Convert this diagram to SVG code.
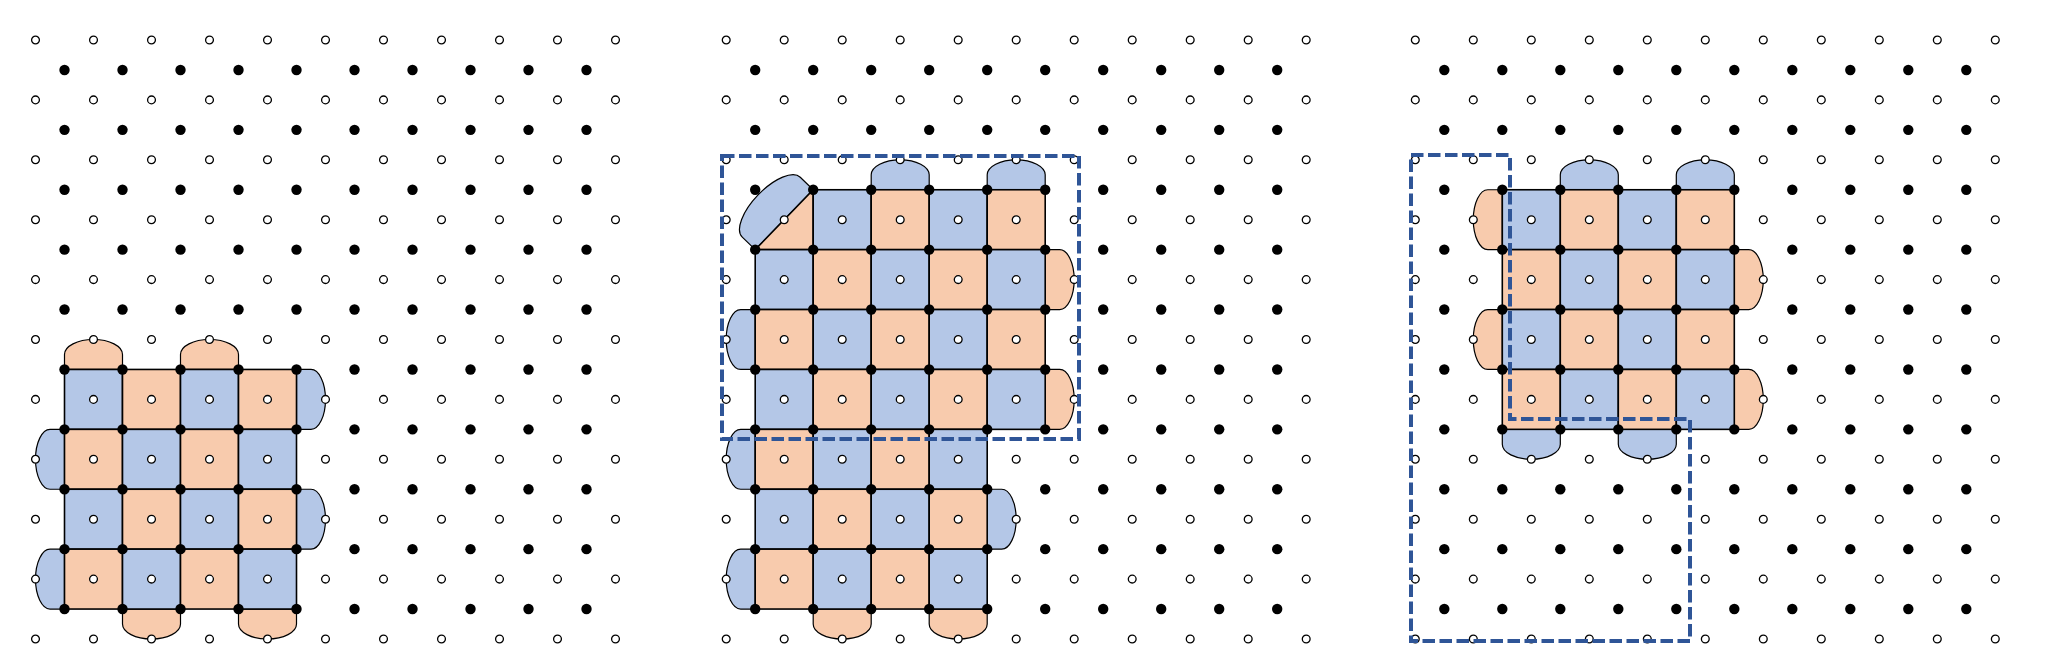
<svg xmlns="http://www.w3.org/2000/svg" width="2045" height="670" viewBox="0 0 2045 670">
<style>
.b{fill:#B4C7E7}
.o{fill:#F8CBAD}
.sq rect,.sq path{stroke:#000;stroke-width:1.6}
.tab path{stroke:#000;stroke-width:1.2}
.w{fill:#fff;stroke:#000;stroke-width:1.3}
.k{fill:#000}
.dash{fill:none;stroke:#2F5597;stroke-width:4;stroke-dasharray:12.5 4.5}
</style>
<defs>
<g id="wr" class="w">
<circle cx="0" cy="0" r="3.9"/><circle cx="58" cy="0" r="3.9"/><circle cx="116" cy="0" r="3.9"/><circle cx="174" cy="0" r="3.9"/><circle cx="232" cy="0" r="3.9"/><circle cx="290" cy="0" r="3.9"/><circle cx="348" cy="0" r="3.9"/><circle cx="406" cy="0" r="3.9"/><circle cx="464" cy="0" r="3.9"/><circle cx="522" cy="0" r="3.9"/><circle cx="580" cy="0" r="3.9"/>
</g>
<g id="br" class="k">
<circle cx="29" cy="0" r="5.2"/><circle cx="87" cy="0" r="5.2"/><circle cx="145" cy="0" r="5.2"/><circle cx="203" cy="0" r="5.2"/><circle cx="261" cy="0" r="5.2"/><circle cx="319" cy="0" r="5.2"/><circle cx="377" cy="0" r="5.2"/><circle cx="435" cy="0" r="5.2"/><circle cx="493" cy="0" r="5.2"/><circle cx="551" cy="0" r="5.2"/>
</g>
<g id="lat">
<use href="#wr" y="0"/><use href="#wr" y="59.9"/><use href="#wr" y="119.8"/><use href="#wr" y="179.7"/><use href="#wr" y="239.6"/><use href="#wr" y="299.5"/><use href="#wr" y="359.4"/><use href="#wr" y="419.3"/><use href="#wr" y="479.2"/><use href="#wr" y="539.1"/><use href="#wr" y="599"/>
<use href="#br" y="29.95"/><use href="#br" y="89.85"/><use href="#br" y="149.75"/><use href="#br" y="209.65"/><use href="#br" y="269.55"/><use href="#br" y="329.45"/><use href="#br" y="389.35"/><use href="#br" y="449.25"/><use href="#br" y="509.15"/><use href="#br" y="569.05"/>
</g>
</defs>
<rect width="2045" height="670" fill="#fff"/>

<g id="panel1" transform="translate(35.5,40)">
<g id="p1-tabs" class="tab">
<path class="o" d="M29,329.45V314.5A29 15 0 0 1 87,314.5V329.45Z"/>
<path class="o" d="M145,329.45V314.5A29 15 0 0 1 203,314.5V329.45Z"/>
<path class="o" d="M87,569.05V584A29 15 0 0 0 145,584V569.05Z"/>
<path class="o" d="M203,569.05V584A29 15 0 0 0 261,584V569.05Z"/>
<path class="b" d="M29,389.35H14.5A14.5 29.95 0 0 0 14.5,449.25H29Z"/>
<path class="b" d="M29,509.15H14.5A14.5 29.95 0 0 0 14.5,569.05H29Z"/>
<path class="b" d="M261,329.45H275.5A14.5 29.95 0 0 1 275.5,389.35H261Z"/>
<path class="b" d="M261,449.25H275.5A14.5 29.95 0 0 1 275.5,509.15H261Z"/>
</g>
<g id="p1-squares" class="sq">
<rect class="b" x="29" y="329.45" width="58" height="59.9"/><rect class="o" x="87" y="329.45" width="58" height="59.9"/><rect class="b" x="145" y="329.45" width="58" height="59.9"/><rect class="o" x="203" y="329.45" width="58" height="59.9"/>
<rect class="o" x="29" y="389.35" width="58" height="59.9"/><rect class="b" x="87" y="389.35" width="58" height="59.9"/><rect class="o" x="145" y="389.35" width="58" height="59.9"/><rect class="b" x="203" y="389.35" width="58" height="59.9"/>
<rect class="b" x="29" y="449.25" width="58" height="59.9"/><rect class="o" x="87" y="449.25" width="58" height="59.9"/><rect class="b" x="145" y="449.25" width="58" height="59.9"/><rect class="o" x="203" y="449.25" width="58" height="59.9"/>
<rect class="o" x="29" y="509.15" width="58" height="59.9"/><rect class="b" x="87" y="509.15" width="58" height="59.9"/><rect class="o" x="145" y="509.15" width="58" height="59.9"/><rect class="b" x="203" y="509.15" width="58" height="59.9"/>
</g>
<use id="p1-dots" href="#lat"/>
</g>

<g id="panel2" transform="translate(726.2,40)">
<g id="p2-tabs" class="tab">
<path class="b" transform="translate(58,179.7) rotate(-45.93)" d="M-41.69,0V-18A41.69 18 0 0 1 41.69,-18V0Z"/>
<path class="b" d="M145,149.75V134.8A29 15 0 0 1 203,134.8V149.75Z"/>
<path class="b" d="M261,149.75V134.8A29 15 0 0 1 319,134.8V149.75Z"/>
<path class="o" d="M319,209.65H333.5A14.5 29.95 0 0 1 333.5,269.55H319Z"/>
<path class="o" d="M319,329.45H333.5A14.5 29.95 0 0 1 333.5,389.35H319Z"/>
<path class="b" d="M29,269.55H14.5A14.5 29.95 0 0 0 14.5,329.45H29Z"/>
<path class="b" d="M29,389.35H14.5A14.5 29.95 0 0 0 14.5,449.25H29Z"/>
<path class="b" d="M29,509.15H14.5A14.5 29.95 0 0 0 14.5,569.05H29Z"/>
<path class="b" d="M261,449.25H275.5A14.5 29.95 0 0 1 275.5,509.15H261Z"/>
<path class="o" d="M87,569.05V584A29 15 0 0 0 145,584V569.05Z"/>
<path class="o" d="M203,569.05V584A29 15 0 0 0 261,584V569.05Z"/>
</g>
<g id="p2-squares" class="sq">
<path class="o" d="M29,209.65L87,149.75V209.65Z"/>
<rect class="b" x="87" y="149.75" width="58" height="59.9"/><rect class="o" x="145" y="149.75" width="58" height="59.9"/><rect class="b" x="203" y="149.75" width="58" height="59.9"/><rect class="o" x="261" y="149.75" width="58" height="59.9"/>
<rect class="b" x="29" y="209.65" width="58" height="59.9"/><rect class="o" x="87" y="209.65" width="58" height="59.9"/><rect class="b" x="145" y="209.65" width="58" height="59.9"/><rect class="o" x="203" y="209.65" width="58" height="59.9"/><rect class="b" x="261" y="209.65" width="58" height="59.9"/>
<rect class="o" x="29" y="269.55" width="58" height="59.9"/><rect class="b" x="87" y="269.55" width="58" height="59.9"/><rect class="o" x="145" y="269.55" width="58" height="59.9"/><rect class="b" x="203" y="269.55" width="58" height="59.9"/><rect class="o" x="261" y="269.55" width="58" height="59.9"/>
<rect class="b" x="29" y="329.45" width="58" height="59.9"/><rect class="o" x="87" y="329.45" width="58" height="59.9"/><rect class="b" x="145" y="329.45" width="58" height="59.9"/><rect class="o" x="203" y="329.45" width="58" height="59.9"/><rect class="b" x="261" y="329.45" width="58" height="59.9"/>
<rect class="o" x="29" y="389.35" width="58" height="59.9"/><rect class="b" x="87" y="389.35" width="58" height="59.9"/><rect class="o" x="145" y="389.35" width="58" height="59.9"/><rect class="b" x="203" y="389.35" width="58" height="59.9"/>
<rect class="b" x="29" y="449.25" width="58" height="59.9"/><rect class="o" x="87" y="449.25" width="58" height="59.9"/><rect class="b" x="145" y="449.25" width="58" height="59.9"/><rect class="o" x="203" y="449.25" width="58" height="59.9"/>
<rect class="o" x="29" y="509.15" width="58" height="59.9"/><rect class="b" x="87" y="509.15" width="58" height="59.9"/><rect class="o" x="145" y="509.15" width="58" height="59.9"/><rect class="b" x="203" y="509.15" width="58" height="59.9"/>
</g>
<use id="p2-dots" href="#lat"/>
</g>

<g id="panel3" transform="translate(1415.3,40)">
<g id="p3-tabs" class="tab">
<path class="b" d="M145,149.75V134.8A29 15 0 0 1 203,134.8V149.75Z"/>
<path class="b" d="M261,149.75V134.8A29 15 0 0 1 319,134.8V149.75Z"/>
<path class="o" d="M87,149.75H72.5A14.5 29.95 0 0 0 72.5,209.65H87Z"/>
<path class="o" d="M87,269.55H72.5A14.5 29.95 0 0 0 72.5,329.45H87Z"/>
<path class="o" d="M319,209.65H333.5A14.5 29.95 0 0 1 333.5,269.55H319Z"/>
<path class="o" d="M319,329.45H333.5A14.5 29.95 0 0 1 333.5,389.35H319Z"/>
<path class="b" d="M87,389.35V404.3A29 15 0 0 0 145,404.3V389.35Z"/>
<path class="b" d="M203,389.35V404.3A29 15 0 0 0 261,404.3V389.35Z"/>
</g>
<g id="p3-squares" class="sq">
<rect class="b" x="87" y="149.75" width="58" height="59.9"/><rect class="o" x="145" y="149.75" width="58" height="59.9"/><rect class="b" x="203" y="149.75" width="58" height="59.9"/><rect class="o" x="261" y="149.75" width="58" height="59.9"/>
<rect class="o" x="87" y="209.65" width="58" height="59.9"/><rect class="b" x="145" y="209.65" width="58" height="59.9"/><rect class="o" x="203" y="209.65" width="58" height="59.9"/><rect class="b" x="261" y="209.65" width="58" height="59.9"/>
<rect class="b" x="87" y="269.55" width="58" height="59.9"/><rect class="o" x="145" y="269.55" width="58" height="59.9"/><rect class="b" x="203" y="269.55" width="58" height="59.9"/><rect class="o" x="261" y="269.55" width="58" height="59.9"/>
<rect class="o" x="87" y="329.45" width="58" height="59.9"/><rect class="b" x="145" y="329.45" width="58" height="59.9"/><rect class="o" x="203" y="329.45" width="58" height="59.9"/><rect class="b" x="261" y="329.45" width="58" height="59.9"/>
</g>
<use id="p3-dots" href="#lat"/>
</g>

<g id="selections">
<rect id="sel2" class="dash" x="722" y="156" width="357" height="283"/>
<path id="sel3" class="dash" d="M1411,155H1510V419H1690V641H1411Z"/>
</g>
</svg>
